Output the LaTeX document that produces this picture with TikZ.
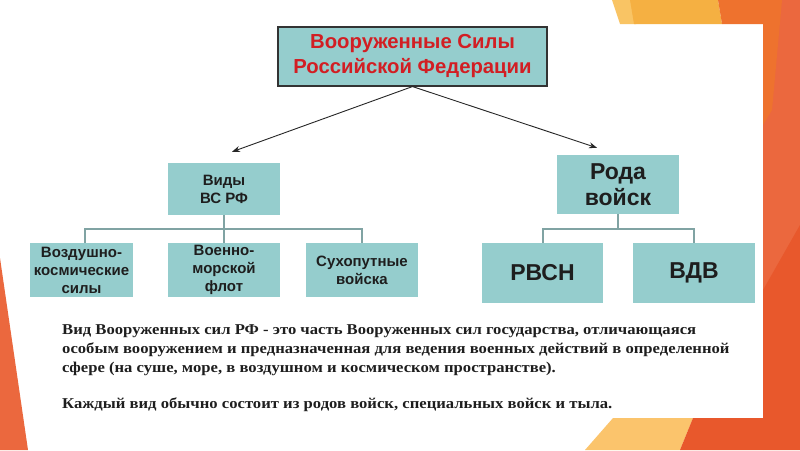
\documentclass[tikz,border=0pt]{standalone}
\usepackage{fontspec}
\setmainfont{Liberation Serif}
\newfontfamily\sansf{Liberation Sans}
\newfontfamily\paraf[FakeStretch=1.11]{Liberation Serif}
\usetikzlibrary{calc,arrows.meta}
\definecolor{boxfill}{RGB}{149,205,205}
\definecolor{connc}{RGB}{128,163,163}
\definecolor{titlered}{RGB}{210,30,35}
\definecolor{textdark}{RGB}{30,30,30}
\definecolor{oLight}{RGB}{249,196,100}
\definecolor{oYel}{RGB}{245,176,66}
\definecolor{oMid}{RGB}{238,114,46}
\definecolor{oRed}{RGB}{235,104,62}
\definecolor{oDeep}{RGB}{232,88,44}
\definecolor{oBotLight}{RGB}{251,196,108}
\tikzset{
  box/.style={fill=boxfill, draw=none, inner sep=0pt, align=center, text=textdark,
    font=\sansf\bfseries\fontsize{15}{18}\selectfont},
  bigbox/.style={box, font=\sansf\bfseries\fontsize{23}{26}\selectfont},
  topbox/.style={box, draw=black!80, line width=1.1pt, text=titlered,
    font=\sansf\bfseries\fontsize{20.3}{25}\selectfont},
  conn/.style={draw=connc, line width=2pt},
  arr/.style={draw=black!85, line width=0.9pt, -{Stealth[length=8pt,width=6pt]}},
  para/.style={anchor=base west, inner sep=0pt, text=textdark,
    font=\paraf\bfseries\fontsize{15}{18}\selectfont}
}
\begin{document}
\begin{tikzpicture}[x=1pt,y=-1pt]
\useasboundingbox (0,0) rectangle (800,450);
\fill[white] (0,0) rectangle (800,450);
% decorative orange frame
\fill[oRed] (763,0) rectangle (800,450);
\fill[oLight] (612,0) -- (632,0) -- (636,24) -- (620,24) -- cycle;
\fill[oYel] (630,0) -- (718,0) -- (722,24) -- (634,24) -- cycle;
\fill[oMid] (718,0) -- (782,0) -- (772,110) -- (763,125) -- (763,24) -- (722,24) -- cycle;
\fill[oDeep] (763,290) -- (800,225) -- (800,450) -- (763,450) -- cycle;
\fill[oBotLight] (613,418) -- (693,418) -- (680,450) -- (585,450) -- cycle;
\fill[oDeep] (693,418) -- (763,418) -- (763,450) -- (680,450) -- cycle;
\fill[oRed] (0,258) -- (28,450) -- (0,450) -- cycle;

% nodes
\node[topbox, minimum width=269pt, minimum height=59pt] (top) at (412.5,56.5)
  {Вооруженные Силы\\Российской Федерации};
\node[box, minimum width=112pt, minimum height=52pt] (vidy) at (224,189) {Виды\\ВС РФ};
\node[box, minimum width=103pt, minimum height=54pt] (vozd) at (81.5,270) {Воздушно-\\космические\\силы};
\node[box, minimum width=112pt, minimum height=54pt] (voen) at (224,270) {Военно-\\морской\\флот};
\node[box, minimum width=112pt, minimum height=54pt] (sux) at (362,270) {Сухопутные\\войска};
\node[bigbox, minimum width=122pt, minimum height=59pt] (roda) at (618,184.5) {Рода\\войск};
\node[bigbox, minimum width=121pt, minimum height=60pt] (rvsn) at (542.5,273) {РВСН};
\node[bigbox, minimum width=122pt, minimum height=60pt] (vdv) at (694,273) {ВДВ};

% connectors
\coordinate (tipL) at ($(vidy.north)+(8,-11)$);
\coordinate (tipR) at ($(roda.north)+(-21,-7)$);
\draw[arr] (top.south) -- (tipL);
\draw[arr] (top.south) -- (tipR);

\draw[conn] (vidy.south) -- (voen.north);
\draw[conn] ($(vozd.north)+(3,0)$) -- ++(0,-14) -| (sux.north);
\draw[conn] (roda.south) -- ++(0,15);
\draw[conn] (rvsn.north) -- ++(0,-14) -| (vdv.north);

% paragraph
\node[para] (p1) at (62,334) {Вид Вооруженных сил РФ - это часть Вооруженных сил государства, отличающаяся};
\node[para] (p2) at (62,353) {особым вооружением и предназначенная для ведения военных действий в определенной};
\node[para] (p3) at (62,372) {сфере (на суше, море, в воздушном и космическом пространстве).};
\node[para] (p4) at (62,408) {Каждый вид обычно состоит из родов войск, специальных войск и тыла.};
\end{tikzpicture}
\end{document}
